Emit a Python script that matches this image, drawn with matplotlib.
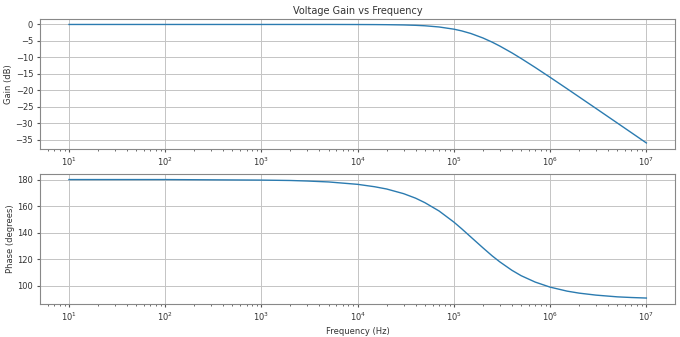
import matplotlib
matplotlib.use("Agg")
import matplotlib.pyplot as plt

# frequency response of the amplifier stage (read at sample frequencies)
freq_hz = [1e1, 1e2, 1e3, 2e3, 3e3, 5e3, 1e4, 1.5e4, 2e4, 3e4, 4e4, 5e4,
           7e4, 1e5, 1.2e5, 1.5e5, 2e5, 2.5e5, 3e5, 4e5, 5e5, 7e5, 1e6,
           1.5e6, 2e6, 3e6, 5e6, 7e6, 1e7]
gain_db = [0.0, 0.0, 0.0, 0.0, 0.0, 0.0, -0.02, -0.04, -0.07, -0.15, -0.26,
           -0.40, -0.76, -1.43, -1.94, -2.74, -4.09, -5.37, -6.55, -8.60,
           -10.32, -13.04, -16.03, -19.49, -21.97, -25.47, -29.90, -32.82,
           -35.92]
phase_deg = [180.0, 180.0, 179.6, 179.3, 178.9, 178.2, 176.4, 174.6, 172.9,
             169.4, 166.0, 162.6, 156.4, 148.0, 143.1, 136.8, 128.7, 122.6,
             118.1, 111.8, 107.7, 102.9, 99.1, 96.1, 94.6, 93.1, 91.8, 91.3,
             90.9]

plt.rcParams['font.size'] = 6.0
plt.rcParams['axes.edgecolor'] = '#888888'
plt.rcParams['xtick.color'] = '#555555'
plt.rcParams['ytick.color'] = '#555555'
plt.rcParams['xtick.labelcolor'] = '#333333'
plt.rcParams['ytick.labelcolor'] = '#333333'
plt.rcParams['axes.labelcolor'] = '#333333'
plt.rcParams['xtick.major.size'] = 2.5
plt.rcParams['ytick.major.size'] = 2.5
plt.rcParams['xtick.minor.size'] = 1.5
plt.rcParams['xtick.major.pad'] = 2.5
plt.rcParams['ytick.major.pad'] = 2.5

fig, (ax1, ax2) = plt.subplots(2, 1, figsize=(6.8, 3.37), dpi=100)
fig.subplots_adjust(left=0.059, right=0.993, top=0.945, bottom=0.098, hspace=0.19)

ax1.semilogx(freq_hz, gain_db, color='#2b7bb0', linewidth=1.0)
ax1.set_title("Voltage Gain vs Frequency", fontsize=7, color='#333333', pad=3)
ax1.set_ylabel("Gain (dB)", labelpad=1.5)
ax1.set_yticks([0, -5, -10, -15, -20, -25, -30, -35])
ax1.grid(True, color='#c4c4c4', linewidth=0.7)

ax2.semilogx(freq_hz, phase_deg, color='#2b7bb0', linewidth=1.0)
ax2.set_xlabel("Frequency (Hz)", labelpad=3)
ax2.set_ylabel("Phase (degrees)", labelpad=1.5)
ax2.set_yticks([100, 120, 140, 160, 180])
ax2.grid(True, color='#c4c4c4', linewidth=0.7)

for ax in (ax1, ax2):
    ax.tick_params(which='both', direction='out')

plt.savefig("out.png", dpi=100)
